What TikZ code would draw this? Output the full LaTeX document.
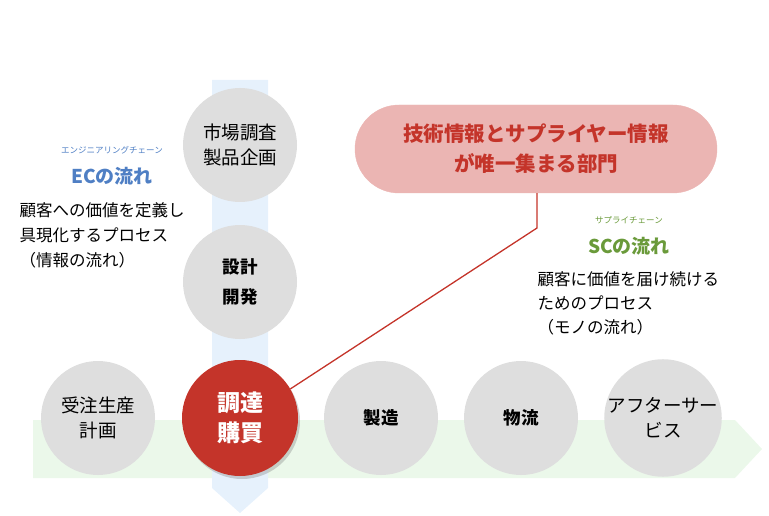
\documentclass[tikz,border=0pt]{standalone}
\usepackage{fontspec}
\setmainfont{Noto Sans CJK JP}
\usetikzlibrary{shadows}
\definecolor{circ}{HTML}{DEDEDE}
\definecolor{redc}{HTML}{C4342A}
\definecolor{pinkc}{HTML}{EBB5B3}
\definecolor{bluet}{HTML}{4F7FC4}
\definecolor{greent}{HTML}{6A9A3A}
\definecolor{bluea}{HTML}{E6F1FC}
\definecolor{greena}{HTML}{EBF8EA}
\tikzset{
 stage/.style={circle,fill=circ,minimum size=114pt,inner sep=0pt,align=center,font=\fontsize{18.5}{25}\selectfont},
 bstage/.style={stage,font=\fontsize{17.5}{30}\selectfont\bfseries},
 body/.style={anchor=west,font=\fontsize{16.5}{20}\selectfont},
 ruby/.style={font=\fontsize{8.5}{9}\selectfont},
}
\begin{document}
\begin{tikzpicture}[x=1pt,y=-1pt]
\useasboundingbox (0,0) rectangle (769,516);
\fill[greena] (33,420) -- (735,420) -- (762,449) -- (735,478) -- (33,478) -- cycle;
\fill[bluea] (212,80) -- (268,80) -- (268,488) -- (240,513) -- (212,488) -- cycle;
\node[stage] (s1) at (240,145) {市場調査\\製品企画};
\node[bstage] (s2) at (240,282) {設計\\開発};
\node[stage] (b1) at (98,418) {受注生産\\計画};
\node[bstage] (b3) at (381,418) {製造};
\node[bstage] (b4) at (521,418) {物流};
\node[stage] (b5) at (663,418) {アフターサー\\ビス};
\node[circle,fill=redc,minimum size=116pt,inner sep=0pt,align=center,text=white,
 font=\fontsize{23}{30}\selectfont\bfseries,drop shadow={opacity=0.35,shadow xshift=2pt,shadow yshift=-3pt}] (b2) at (240,418) {調達\\購買};
\node[rounded corners=44pt,fill=pinkc,draw=pinkc,minimum width=362pt,minimum height=88pt,align=center,
 text=redc,font=\fontsize{20.5}{30}\selectfont\bfseries] (box) at (536,149) {技術情報とサプライヤー情報\\が唯一集まる部門};
\coordinate (k) at (537,228);
\draw[redc,line width=1.3pt] (box.south -| k) -- (k) -- (b2.30);
\node[ruby,text=bluet] (er) at (112,150) {エンジニアリングチェーン};
\node[text=bluet,font=\fontsize{19}{22}\selectfont\bfseries] (et) at (112,176) {ECの流れ};
\node[body] (e1) at (16,210) {顧客への価値を定義し};
\node[body] (e2) at (16,235) {具現化するプロセス};
\node[body] (e3) at (16,260) {（情報の流れ）};
\node[ruby,text=greent] (sr) at (629,220) {サプライチェーン};
\node[text=greent,font=\fontsize{19}{22}\selectfont\bfseries] (st) at (629,246) {SCの流れ};
\node[body] (c1) at (534,279) {顧客に価値を届け続ける};
\node[body] (c2) at (534,303) {ためのプロセス};
\node[body] (c3) at (534,327) {（モノの流れ）};
\end{tikzpicture}
\end{document}
